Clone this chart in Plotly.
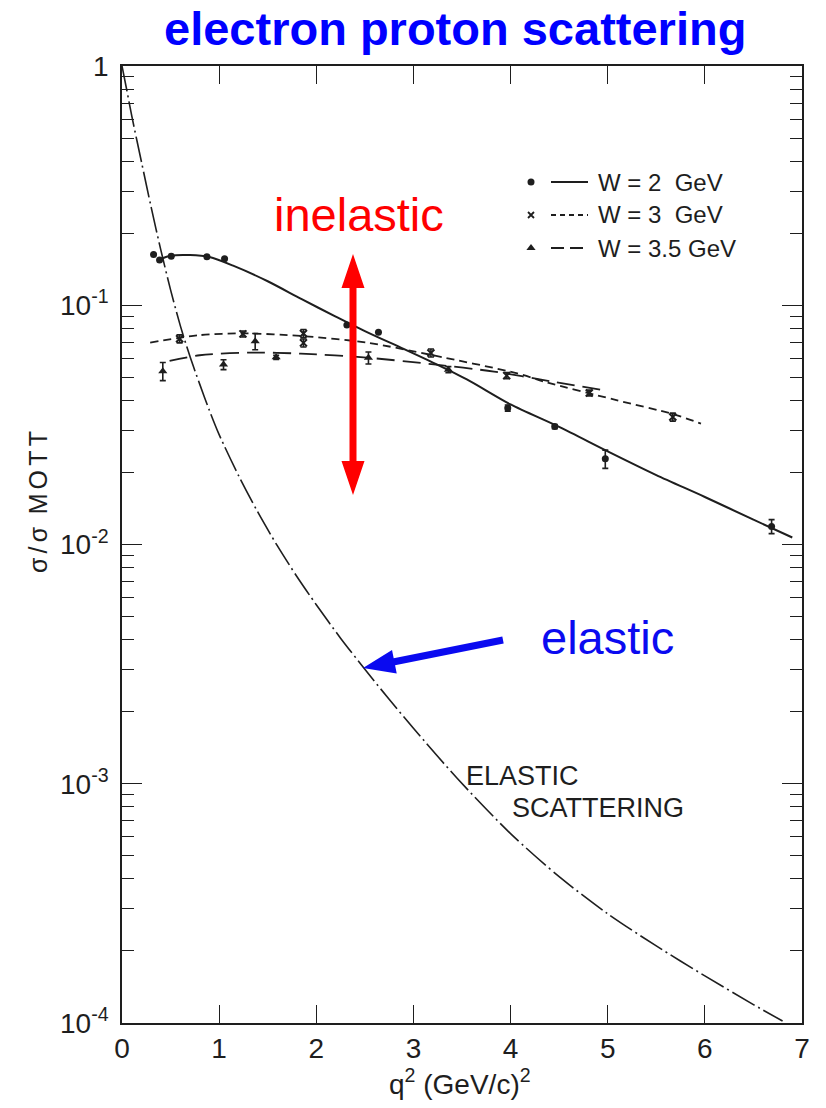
import math
import plotly.graph_objects as go

# ---- measured cross-section ratios sigma/sigma_Mott versus q^2 (GeV/c)^2 ----
# W = 2 GeV (dots, solid fit)
w2_q2 = [0.325, 0.387, 0.507, 0.874, 1.056, 2.315, 2.64, 3.971, 4.455, 4.975, 6.687]
w2_ratio = [0.163, 0.1545, 0.1604, 0.1596, 0.1566, 0.0826, 0.0771, 0.0372, 0.0311, 0.0228, 0.0119]
w2_err = [0, 0, 0, 0, 0, 0, 0, 0.0011, 0.0006, 0.002, 0.0008]
w2_fit_q2 = [0.38, 0.5, 0.7, 0.9, 1.15, 1.5, 1.85, 2.2, 2.5, 2.87, 3.2, 3.55, 4.0, 4.5, 5.0, 5.5, 6.0, 6.5, 6.9]
w2_fit = [0.155, 0.161, 0.162, 0.159, 0.146, 0.126, 0.106, 0.0897, 0.078, 0.0665, 0.0576, 0.049,
          0.0385, 0.031, 0.0245, 0.0195, 0.0158, 0.0127, 0.0107]

# W = 3 GeV (crosses, short-dash fit)
w3_q2 = [0.593, 1.245, 1.868, 1.868, 3.18, 3.96, 4.81, 5.67]
w3_ratio = [0.0724, 0.0759, 0.0762, 0.0696, 0.0632, 0.0508, 0.043, 0.0341]
w3_err = [0.0028, 0.0022, 0.003, 0.0027, 0.0024, 0.0015, 0.0012, 0.0013]
w3_fit_q2 = [0.29, 0.8, 1.25, 1.84, 2.52, 3.2, 4.07, 4.38, 5.06, 5.68, 5.96]
w3_fit = [0.0698, 0.075, 0.0763, 0.0744, 0.0698, 0.0618, 0.0519, 0.0475, 0.0404, 0.035, 0.032]

# W = 3.5 GeV (triangles, long-dash fit)
w35_q2 = [0.42, 1.045, 1.371, 1.587, 2.537, 3.36]
w35_ratio = [0.053, 0.0565, 0.0707, 0.0606, 0.0603, 0.0538]
w35_err = [0.0046, 0.0027, 0.0055, 0.0012, 0.0035, 0.0016]
w35_fit_q2 = [0.49, 0.8, 1.32, 1.84, 2.52, 3.21, 3.83, 4.4, 5.0]
w35_fit = [0.0585, 0.0618, 0.0634, 0.0628, 0.0604, 0.0566, 0.0528, 0.0482, 0.0438]

# elastic scattering curve
el_q2 = [0.0, 0.05, 0.1, 0.2, 0.3, 0.4, 0.5, 0.6, 0.7, 0.8, 0.9, 1.0, 1.2, 1.4, 1.6, 1.8,
         2.0, 2.25, 2.5, 2.75, 3.0, 3.45, 4.0, 4.5, 5.0, 5.5, 6.0, 6.5, 6.8]
el_ratio = [1.0, 0.79, 0.62, 0.398, 0.257, 0.170, 0.116, 0.0822, 0.0610, 0.0468, 0.0363,
            0.0288, 0.01941, 0.01361, 0.00986, 0.00735, 0.00560, 0.00406, 0.00301, 0.002254,
            0.001706, 0.001054, 0.000619, 0.000409, 0.000286, 0.000210, 0.0001574, 0.0001194,
            0.0001019]

x_ticks = [0, 1, 2, 3, 4, 5, 6, 7]
y_ticks = [1e-4, 1e-3, 1e-2, 1e-1, 1]
y_ticktext = ["10<sup>-4</sup>", "10<sup>-3</sup>", "10<sup>-2</sup>", "10<sup>-1</sup>", "1"]

legend_labels = ["W = 2  GeV", "W = 3  GeV", "W = 3.5 GeV"]

# ---- page geometry ----
W, H = 826, 1108
ML, MR, MT, MB = 122, 24, 66, 85
PW, PH = W - ML - MR, H - MT - MB

INK = "#1e1e1e"
FONT = "Liberation Sans, Arial, sans-serif"


def fx(px):
    return (px - ML) / PW


def fy(py):
    return (H - MB - py) / PH


def arrow_path(tail, tip, shaft_w, head_len, head_w, double=False):
    """Filled arrow outline (page pixels) converted to a paper-space SVG path."""
    (x0, y0), (x1, y1) = tail, tip
    L = math.hypot(x1 - x0, y1 - y0)
    ux, uy = (x1 - x0) / L, (y1 - y0) / L
    nx, ny = -uy, ux

    def P(s, t):
        return (x0 + ux * s + nx * t, y0 + uy * s + ny * t)

    hs, hh = shaft_w / 2, head_w / 2
    if double:
        pts = [P(0, 0), P(head_len, hh), P(head_len, hs), P(L - head_len, hs), P(L - head_len, hh),
               P(L, 0), P(L - head_len, -hh), P(L - head_len, -hs), P(head_len, -hs), P(head_len, -hh)]
    else:
        pts = [P(0, hs), P(L - head_len, hs), P(L - head_len, hh), P(L, 0),
               P(L - head_len, -hh), P(L - head_len, -hs), P(0, -hs)]
    return "M " + " L ".join(f"{fx(a):.5f},{fy(b):.5f}" for a, b in pts) + " Z"


fig = go.Figure()

# fitted curves
fig.add_trace(go.Scatter(x=el_q2, y=el_ratio, mode="lines",
                         line=dict(color=INK, width=1.6, dash="26px,4px,2px,4px",
                                   shape="spline", smoothing=0.8)))
fig.add_trace(go.Scatter(x=w2_fit_q2, y=w2_fit, mode="lines",
                         line=dict(color=INK, width=2, shape="spline", smoothing=0.8)))
fig.add_trace(go.Scatter(x=w3_fit_q2, y=w3_fit, mode="lines",
                         line=dict(color=INK, width=1.8, dash="8px,5px", shape="spline", smoothing=0.8)))
fig.add_trace(go.Scatter(x=w35_fit_q2, y=w35_fit, mode="lines",
                         line=dict(color=INK, width=1.8, dash="18px,8px", shape="spline", smoothing=0.8)))

# data points
err_style = dict(type="data", color=INK, thickness=1.6, width=3)
fig.add_trace(go.Scatter(x=w2_q2, y=w2_ratio, mode="markers",
                         marker=dict(symbol="circle", size=7, color=INK),
                         error_y=dict(array=w2_err, **err_style)))
fig.add_trace(go.Scatter(x=w3_q2, y=w3_ratio, mode="markers",
                         marker=dict(symbol="x-thin", size=7, line=dict(color=INK, width=2)),
                         error_y=dict(array=w3_err, **err_style)))
fig.add_trace(go.Scatter(x=w35_q2, y=w35_ratio, mode="markers",
                         marker=dict(symbol="triangle-up", size=8, color=INK),
                         error_y=dict(array=w35_err, **err_style)))

# legend glyphs on an overlay axis spanning the plot area (0..1 in both directions)
leg_rows_py = [182, 215, 248]
leg_sym_x = fx(531)
fig.add_trace(go.Scatter(x=[leg_sym_x], y=[fy(leg_rows_py[0])], mode="markers", xaxis="x2", yaxis="y2",
                         marker=dict(symbol="circle", size=7, color=INK)))
fig.add_trace(go.Scatter(x=[leg_sym_x], y=[fy(leg_rows_py[1])], mode="markers", xaxis="x2", yaxis="y2",
                         marker=dict(symbol="x-thin", size=6, line=dict(color=INK, width=1.8))))
fig.add_trace(go.Scatter(x=[leg_sym_x], y=[fy(leg_rows_py[2])], mode="markers", xaxis="x2", yaxis="y2",
                         marker=dict(symbol="triangle-up", size=8, color=INK)))

shapes = []
for py, dash in zip(leg_rows_py, ["solid", "5px,4px", "13px,6px"]):
    shapes.append(dict(type="line", xref="paper", yref="paper", x0=fx(551), x1=fx(588),
                       y0=fy(py), y1=fy(py), line=dict(color=INK, width=1.8, dash=dash)))

# red double arrow (inelastic) and blue arrow (elastic)
shapes.append(dict(type="path", xref="paper", yref="paper", fillcolor="#ff0000", line=dict(width=0),
                   path=arrow_path((353, 254), (353, 495), 7, 34, 23, double=True)))
shapes.append(dict(type="path", xref="paper", yref="paper", fillcolor="#0a0af0", line=dict(width=0),
                   path=arrow_path((503, 640), (363, 668), 7, 32, 24)))

annotations = []
for py, label in zip(leg_rows_py, legend_labels):
    annotations.append(dict(xref="paper", yref="paper", x=fx(596), y=fy(py), text=label,
                            xanchor="left", yanchor="middle", showarrow=False,
                            font=dict(family=FONT, size=24, color=INK)))

annotations += [
    dict(xref="paper", yref="paper", x=fx(455), y=fy(28), text="<b>electron proton scattering</b>",
         showarrow=False, xanchor="center", yanchor="middle",
         font=dict(family=FONT, size=47, color="#0000ff")),
    dict(xref="paper", yref="paper", x=fx(359), y=fy(214), text="inelastic",
         showarrow=False, xanchor="center", yanchor="middle",
         font=dict(family=FONT, size=47, color="#ff0000")),
    dict(xref="paper", yref="paper", x=fx(607), y=fy(638), text="elastic",
         showarrow=False, xanchor="center", yanchor="middle",
         font=dict(family=FONT, size=47, color="#0a0af0")),
    dict(xref="paper", yref="paper", x=fx(464), y=fy(776), text="ELASTIC",
         showarrow=False, xanchor="left", yanchor="middle",
         font=dict(family=FONT, size=27, color=INK)),
    dict(xref="paper", yref="paper", x=fx(510), y=fy(808), text="SCATTERING",
         showarrow=False, xanchor="left", yanchor="middle",
         font=dict(family=FONT, size=27, color=INK)),
    dict(xref="paper", yref="paper", x=fx(38), y=fy(502),
         text="σ\u2006/\u2006σ\u2002M\u2006O\u2006T\u2006T", textangle=-90,
         showarrow=False, xanchor="center", yanchor="middle",
         font=dict(family=FONT, size=25, color=INK)),
    dict(xref="paper", yref="paper", x=fx(460), y=fy(1082), text="q<sup>2</sup> (GeV/c)<sup>2</sup>",
         showarrow=False, xanchor="center", yanchor="middle",
         font=dict(family=FONT, size=28, color=INK)),
]

fig.update_layout(
    width=W, height=H,
    margin=dict(l=ML, r=MR, t=MT, b=MB),
    paper_bgcolor="white", plot_bgcolor="white",
    showlegend=False,
    shapes=shapes, annotations=annotations,
    xaxis=dict(range=[0, 7], tickvals=x_ticks, ticks="inside", ticklen=18, tickwidth=1.3,
               tickcolor=INK, showline=True, linecolor=INK, linewidth=1.6, mirror="allticks",
               showgrid=False, zeroline=False, tickfont=dict(family=FONT, size=28, color=INK)),
    yaxis=dict(type="log", range=[-4, 0], tickvals=y_ticks, ticktext=y_ticktext,
               ticks="inside", ticklen=20, tickwidth=1.3, tickcolor=INK, ticklabelstandoff=6,
               minor=dict(ticks="inside", ticklen=12, tickwidth=1.1, tickcolor=INK, dtick="D1",
                          showgrid=False),
               showline=True, linecolor=INK, linewidth=1.6, mirror="allticks",
               showgrid=False, zeroline=False, tickfont=dict(family=FONT, size=28, color=INK)),
    xaxis2=dict(overlaying="x", anchor="y2", range=[0, 1], visible=False),
    yaxis2=dict(overlaying="y", anchor="x2", range=[0, 1], visible=False),
)

fig.write_html("out.html")
